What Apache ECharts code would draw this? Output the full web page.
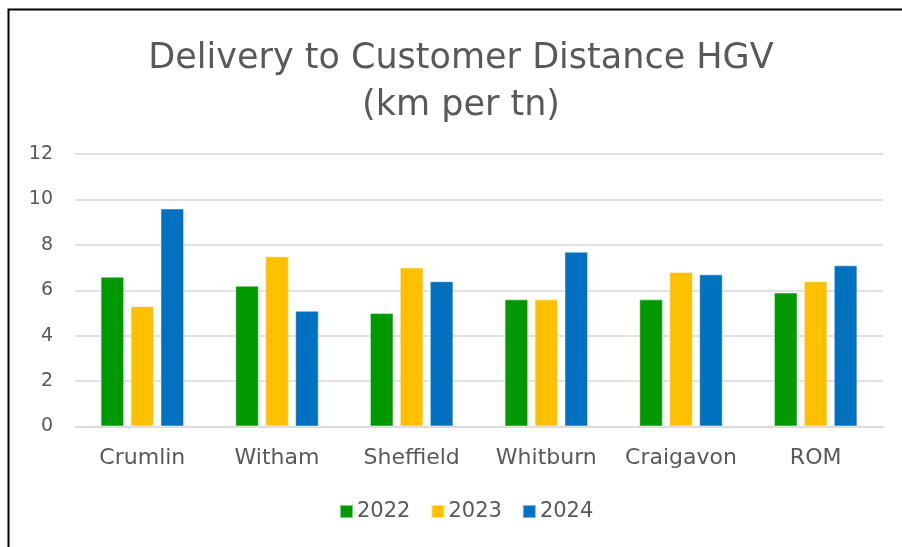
<!DOCTYPE html>
<html>
<head>
<meta charset="utf-8">
<script src="https://cdn.jsdelivr.net/npm/echarts@6/dist/echarts.min.js"></script>
<style>
html,body{margin:0;padding:0;background:#fff;}
#chart{width:902px;height:547px;}
</style>
</head>
<body>
<div id="chart"></div>
<script>
const titleText = "Delivery to Customer Distance HGV\n(km per tn)";
const categories = ["Crumlin", "Witham", "Sheffield", "Whitburn", "Craigavon", "ROM"];
const seriesNames = ["2022", "2023", "2024"];
const values2022 = [6.6, 6.2, 5.0, 5.6, 5.6, 5.9];
const values2023 = [5.3, 7.5, 7.0, 5.6, 6.8, 6.4];
const values2024 = [9.6, 5.1, 6.4, 7.7, 6.7, 7.1];
const colors = ["#009900", "#FFC000", "#0070C0"];
const yTicks = {min: 0, max: 12, interval: 2};

const FONT = "DejaVu Sans";
const TXT = "#595959";
const chart = echarts.init(document.getElementById('chart'), null, {renderer: 'canvas'});
const allValues = [values2022, values2023, values2024];
chart.setOption({
  animation: false,
  backgroundColor: '#fff',
  graphic: [
    {type: 'polyline', shape: {points: [[8.5, 547], [8.5, 9.5], [902, 9.5]]},
     style: {stroke: '#000', lineWidth: 2, fill: null}, z: 10},
    {type: 'text', x: 461, y: 35,
     style: {text: titleText, font: '35px "' + FONT + '"', fill: TXT, textAlign: 'center',
             textVerticalAlign: 'top', lineHeight: 47}}
  ],
  grid: {left: 75, right: 19, top: 154, bottom: 120.5, containLabel: false},
  legend: {
    data: seriesNames, left: 334, top: 496, itemWidth: 13, itemHeight: 13, itemGap: 20,
    icon: 'rect',
    textStyle: {fontFamily: FONT, fontSize: 21, color: TXT, padding: [0, 0, 0, -1]}
  },
  xAxis: {
    type: 'category', data: categories,
    axisLine: {show: true, lineStyle: {color: '#D9D9D9', width: 1.5}},
    axisTick: {show: false},
    axisLabel: {fontFamily: FONT, fontSize: 22, color: TXT, margin: 21, interval: 0}
  },
  yAxis: {
    type: 'value', min: yTicks.min, max: yTicks.max, interval: yTicks.interval,
    axisLine: {show: false}, axisTick: {show: false},
    splitLine: {lineStyle: {color: '#D9D9D9', width: 1.5}},
    axisLabel: {fontFamily: FONT, fontSize: 19, color: TXT, margin: 22}
  },
  series: seriesNames.map((n, i) => ({
    name: n, type: 'bar', data: allValues[i],
    barGap: '27%', barCategoryGap: '38%',
    itemStyle: {color: colors[i], borderColor: 'rgba(255,255,255,0.5)', borderWidth: 1}
  }))
});
</script>
</body>
</html>
